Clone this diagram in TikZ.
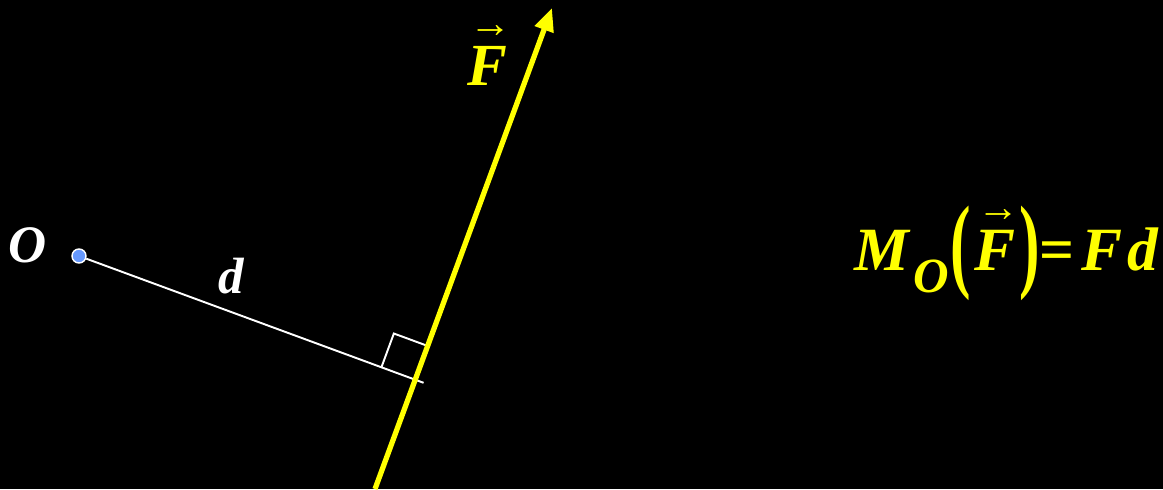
\documentclass[tikz,border=0pt]{standalone}
\usepackage{fontspec}
\usepackage{amsmath}
\usepackage{graphicx}
\setmainfont{Liberation Serif}
\usetikzlibrary{calc,arrows.meta}

\definecolor{amarillo}{RGB}{255,255,0}
\definecolor{azulpunto}{RGB}{102,153,255}

\newcommand{\fsize}[1]{\fontsize{#1}{#1}\selectfont}
\newcommand{\arrowF}{$\overset{\text{\fsize{24}\upshape\mdseries\hspace{0.15em}→}}{\text{F}}$}

\tikzset{
  lbl/.style={font=\bfseries\itshape\fsize{30}, inner sep=0pt},
  dot/.style={circle, fill=azulpunto, draw=white, line width=0.8pt, minimum size=2.8mm, inner sep=0pt},
  arm/.style={white, line width=1.1pt},
  force/.style={amarillo, line width=3pt, -{Triangle[length=4.6mm,width=3.8mm]}}
}

\begin{document}
\begin{tikzpicture}

\useasboundingbox (0,0) rectangle (23.26,9.78);
\fill[black] (0,0) rectangle (23.26,9.78);

% Punto O y fuerza
\node[dot] (O) at (1.58,4.66) {};
\node[lbl, white] (Olab) at (0.56,4.88) {O};

\coordinate (Fstart) at (7.5,0);
\coordinate (Ftip) at (11.04,9.62);
\coordinate (H) at ($(Fstart)!(O)!(Ftip)$);

\draw[arm] (O) -- ($(O)!1.025!(H)$);
\node[lbl, white, font=\bfseries\itshape\fsize{29}] (d) at (4.62,4.26) {d};

% Angulo recto
\coordinate (A) at ($(H)!0.72cm!(O)$);
\coordinate (B) at ($(H)!0.72cm!(Ftip)$);
\draw[arm] (A) -- ($(A)+(B)-(H)$) -- (B);

\draw[force] (Fstart) -- (Ftip);
\node[lbl, amarillo, font=\bfseries\itshape\fsize{34}] (Flab) at (9.74,8.72) {\arrowF};

% Momento
\node[lbl, amarillo, font=\bfseries\itshape\fsize{35}] (mom) at (20.12,4.72)
  {M\hspace{0.08em}\raisebox{-0.8ex}{\fsize{28}O}\hspace{0.02em}\raisebox{-0.3ex}{\upshape\scalebox{1}[1.7]{(}}\arrowF\raisebox{-0.3ex}{\upshape\scalebox{1}[1.7]{)}}\upshape=\itshape\hspace{0.1em}F\hspace{0.08em}d};

\end{tikzpicture}
\end{document}
